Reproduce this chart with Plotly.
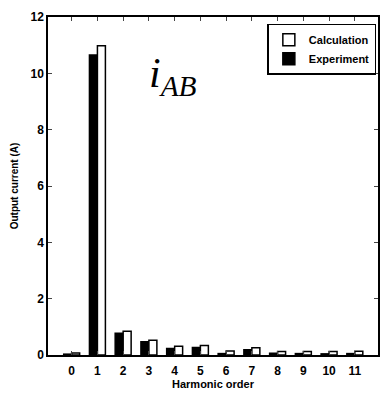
import plotly.graph_objects as go

harmonic = [0, 1, 2, 3, 4, 5, 6, 7, 8, 9, 10, 11]
experiment = [0.03, 10.65, 0.77, 0.47, 0.23, 0.27, 0.05, 0.19, 0.06, 0.05, 0.04, 0.05]
calculation = [0.07, 10.98, 0.84, 0.52, 0.31, 0.34, 0.14, 0.26, 0.12, 0.12, 0.12, 0.13]

fnt = "Liberation Sans, Arial, sans-serif"

fig = go.Figure()
fig.add_trace(go.Bar(
    x=harmonic, y=experiment, name="Experiment",
    marker=dict(color="black", line=dict(color="black", width=1.5)),
))
fig.add_trace(go.Bar(
    x=harmonic, y=calculation, name="Calculation",
    marker=dict(color="white", line=dict(color="black", width=1.5)),
))

fig.update_layout(
    width=386, height=395,
    margin=dict(l=48, r=6, t=17, b=39),
    plot_bgcolor="white", paper_bgcolor="white",
    barmode="group", bargap=0.38, bargroupgap=0,
    font=dict(family=fnt, size=11, color="black", weight="bold"),
    legend=dict(
        x=0.995, y=0.98, xanchor="right", yanchor="top",
        traceorder="reversed", bordercolor="black", borderwidth=1.5,
        bgcolor="white", font=dict(size=11, weight="bold"),
        itemwidth=30, tracegroupgap=0,
    ),
    annotations=[dict(
        text="<i>i</i><sub><i>AB</i></sub>",
        x=0.38, y=0.825, xref="paper", yref="paper",
        xanchor="center", yanchor="middle", showarrow=False,
        font=dict(family="Liberation Serif, Times New Roman, serif", size=42, weight="normal"),
    )],
)
fig.update_xaxes(
    range=[-0.92, 11.9], tickvals=harmonic, ticks="inside", ticklen=4,
    showline=True, linecolor="black", linewidth=1.5, mirror="ticks",
    showgrid=False, zeroline=False, ticklabelstandoff=4,
    title=dict(text="Harmonic order", font=dict(size=11), standoff=3),
    tickfont=dict(size=12),
)
fig.update_yaxes(
    range=[0, 12], dtick=2, ticks="inside", ticklen=4,
    showline=True, linecolor="black", linewidth=1.5, mirror="ticks",
    showgrid=False, zeroline=False,
    title=dict(text="Output current (A)", font=dict(size=10), standoff=10),
    tickfont=dict(size=12),
)

fig.write_html("out.html", config={"displayModeBar": False},
               post_script="document.body.style.margin='0';")
